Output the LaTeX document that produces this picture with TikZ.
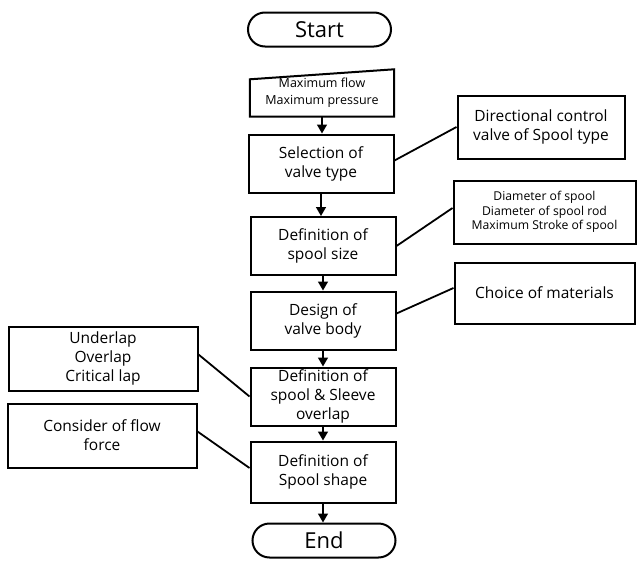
\documentclass[tikz,border=0pt]{standalone}
\usepackage{fontspec}
\setmainfont{Open Sans}
\usetikzlibrary{arrows.meta,positioning}

\begin{document}
\begin{tikzpicture}[x=1pt,y=-1pt,>={Triangle[length=9pt,width=10pt]},
        font=\fontsize{15.5}{19}\selectfont,
        term/.style={draw,line width=2pt,rounded corners=17pt,minimum width=143pt,
                     minimum height=34pt,inner sep=0pt,font=\fontsize{22}{26}\selectfont},
        proc/.style={draw,line width=2pt,minimum width=145pt,minimum height=58pt,
                     inner sep=0pt,align=center},
        note/.style={draw,line width=2pt,inner sep=0pt,align=center},
        inbox/.style={minimum width=144pt,minimum height=47pt,inner sep=0pt,align=center,
                      font=\fontsize{12.5}{17}\selectfont},
        flow/.style={->,line width=1.4pt},
        link/.style={line width=1.8pt}]
        \useasboundingbox (0,0) rectangle (638,562);
        % main column
        \node[term] (start) at (319.5,29.5) {Start};
        \node[inbox] (inp) at (322,93) {Maximum flow\\Maximum pressure};
        \draw[line width=2pt,line join=miter] (inp.south west) -- (inp.south east) -- (inp.north east)
              -- ([yshift=-10pt]inp.north west) -- cycle;
        \node[proc] (sel) at (321,163.5) {Selection of\\valve type};
        \node[proc] (size) at (323,246) {Definition of\\spool size};
        \node[proc] (body) at (323,320.5) {Design of\\valve body};
        \node[proc] (ovl) at (323,396.5) {Definition of\\spool \& Sleeve\\overlap};
        \node[proc,minimum height=61pt] (shp) at (323,472) {Definition of\\Spool shape};
        \node[term] (end) at (324,540.5) {End};
        % side notes
        \node[note,minimum width=167pt,minimum height=63pt] (dcv) at (541,127)
              {Directional control\\valve of Spool type};
        \node[note,minimum width=182pt,minimum height=63pt,font=\fontsize{12.2}{14.5}\selectfont] (dia) at (544.5,212)
              {Diameter of spool\\Diameter of spool rod\\Maximum Stroke of spool};
        \node[note,minimum width=180pt,minimum height=61pt] (mat) at (544.5,293) {Choice of materials};
        \node[note,minimum width=189pt,minimum height=64pt] (lap) at (103,358.5)
              {Underlap\\Overlap\\Critical lap};
        \node[note,minimum width=189pt,minimum height=64pt] (frc) at (102,435.5)
              {Consider of flow\\force};
        % arrows
        \draw[flow] (inp.south) -- (inp.south |- sel.north);
        \draw[flow] (sel.south) -- (sel.south |- size.north);
        \draw[flow] (size.south) -- (size.south |- body.north);
        \draw[flow] (body.south) -- (body.south |- ovl.north);
        \draw[flow] (ovl.south) -- (ovl.south |- shp.north);
        \draw[flow] (shp.south) -- (shp.south |- end.north);
        % links to notes
        \draw[link] ([yshift=3pt]sel.east) -- (dcv.west);
        \draw[link] (size.east) -- ([yshift=4pt]dia.west);
        \draw[link] ([yshift=7pt]body.east) -- ([yshift=5pt]mat.west);
        \draw[link] ([yshift=4pt]lap.east) -- (ovl.west);
        \draw[link] ([yshift=4pt]frc.east) -- ([yshift=4pt]shp.west);
\end{tikzpicture}
\end{document}
